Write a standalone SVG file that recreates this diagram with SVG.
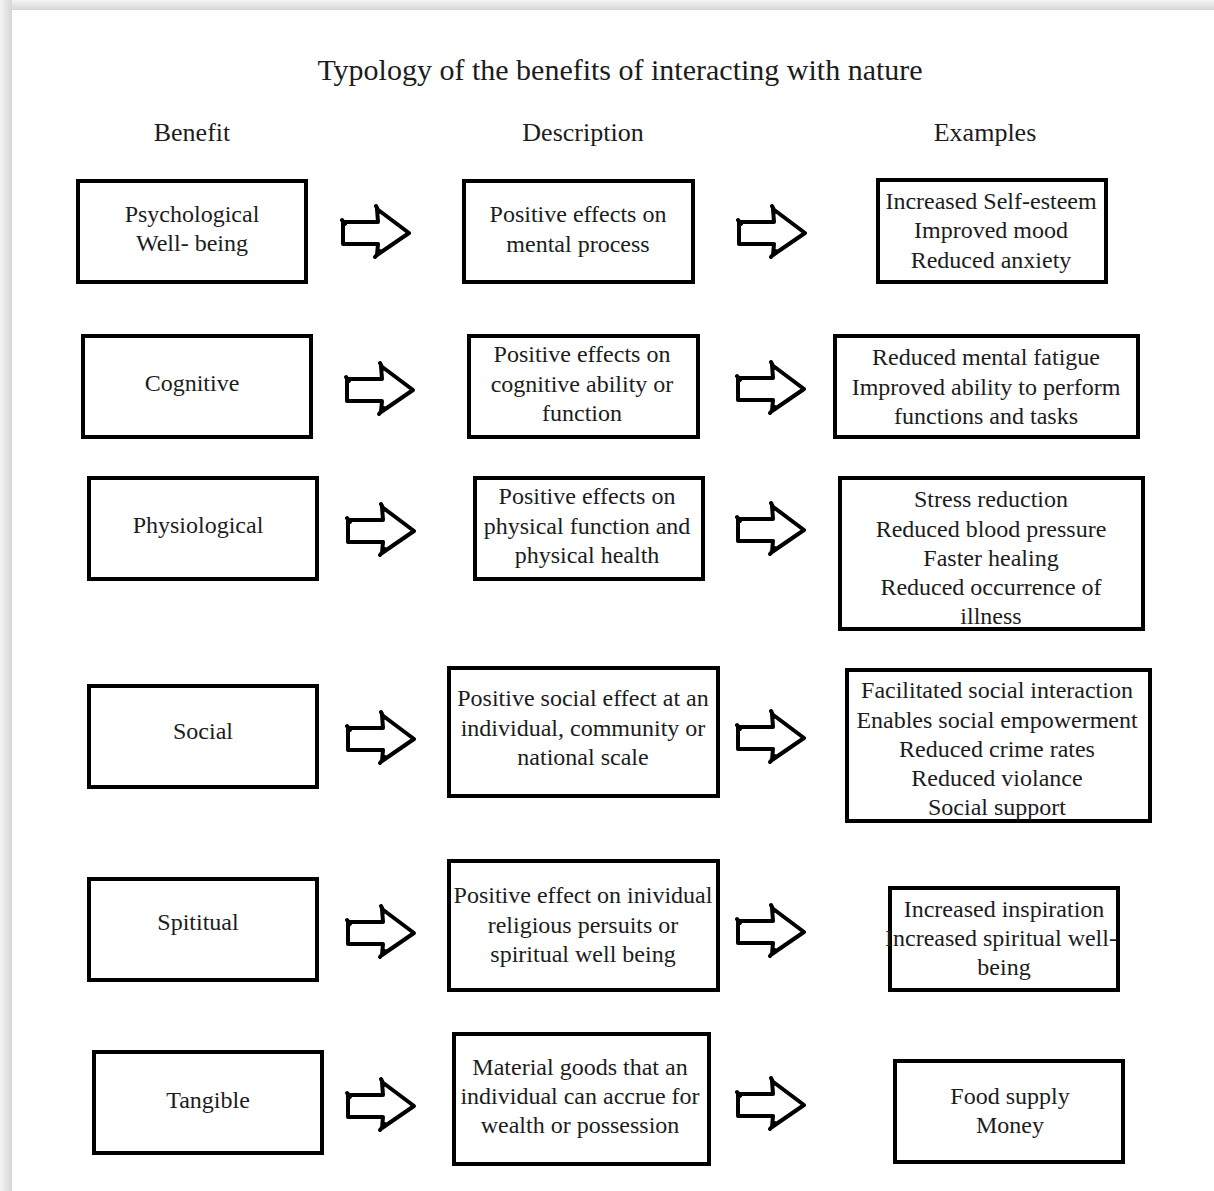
<svg xmlns="http://www.w3.org/2000/svg" width="1214" height="1191" viewBox="0 0 1214 1191">
<defs>
<linearGradient id="gt" x1="0" y1="0" x2="0" y2="1"><stop offset="0" stop-color="#f4f4f4"/><stop offset="1" stop-color="#d6d6d6"/></linearGradient>
<linearGradient id="gl" x1="0" y1="0" x2="1" y2="0"><stop offset="0" stop-color="#f4f4f4"/><stop offset="1" stop-color="#d6d6d6"/></linearGradient>
<path id="arr" d="M0,-11 L35,-11 L34,-24 L66,0 L34,22 L35,11 L0,11 Z M33,-27 L36,-21 M32,24 L37,18 M-1,-13 L2,-9"/>
</defs>
<style>
.box{fill:#fff;stroke:#000;stroke-width:4}
.t{font-family:"Liberation Serif","Times New Roman",serif;font-size:24px;fill:#1c1c1c;text-anchor:middle}
.h{font-size:26px}
.ti{font-size:30px}
.a{fill:none;stroke:#000;stroke-width:4;stroke-linejoin:round;stroke-linecap:round}
</style>
<rect width="1214" height="1191" fill="#fff"/>
<rect x="0" y="0" width="1214" height="10" fill="url(#gt)"/>
<rect x="0" y="0" width="12" height="1191" fill="url(#gl)"/>
<rect x="12" y="10" width="1202" height="1181" fill="#fff"/>

<text class="t ti" x="620" y="80">Typology of the benefits of interacting with nature</text>
<text class="t h" x="192" y="141">Benefit</text>
<text class="t h" x="583" y="141">Description</text>
<text class="t h" x="985" y="141">Examples</text>

<g id="connectors">
<use href="#arr" class="a" transform="translate(343,233)"/>
<use href="#arr" class="a" transform="translate(739,233)"/>
<use href="#arr" class="a" transform="translate(347,390)"/>
<use href="#arr" class="a" transform="translate(738,389)"/>
<use href="#arr" class="a" transform="translate(348,531)"/>
<use href="#arr" class="a" transform="translate(738,530)"/>
<use href="#arr" class="a" transform="translate(348,739)"/>
<use href="#arr" class="a" transform="translate(738,738)"/>
<use href="#arr" class="a" transform="translate(348,933)"/>
<use href="#arr" class="a" transform="translate(738,932)"/>
<use href="#arr" class="a" transform="translate(348,1106)"/>
<use href="#arr" class="a" transform="translate(738,1105)"/>
</g>

<g id="b1"><rect class="box" x="78" y="181" width="228" height="101"/><text class="t" x="192" y="222">Psychological</text><text class="t" x="192" y="251">Well- being</text></g>
<g id="d1"><rect class="box" x="464" y="181" width="229" height="101"/><text class="t" x="578" y="222">Positive effects on</text><text class="t" x="578" y="252">mental process</text></g>
<g id="e1"><rect class="box" x="878" y="180" width="228" height="102"/><text class="t" x="991" y="209">Increased Self-esteem</text><text class="t" x="991" y="238">Improved mood</text><text class="t" x="991" y="268">Reduced anxiety</text></g>

<g id="b2"><rect class="box" x="83" y="336" width="228" height="101"/><text class="t" x="192" y="391">Cognitive</text></g>
<g id="d2"><rect class="box" x="469" y="336" width="229" height="101"/><text class="t" x="582" y="362">Positive effects on</text><text class="t" x="582" y="392">cognitive ability or</text><text class="t" x="582" y="421">function</text></g>
<g id="e2"><rect class="box" x="835" y="336" width="303" height="101"/><text class="t" x="986" y="365">Reduced mental fatigue</text><text class="t" x="986" y="395">Improved ability to perform</text><text class="t" x="986" y="424">functions and tasks</text></g>

<g id="b3"><rect class="box" x="89" y="478" width="228" height="101"/><text class="t" x="198" y="533">Physiological</text></g>
<g id="d3"><rect class="box" x="475" y="478" width="228" height="101"/><text class="t" x="587" y="504">Positive effects on</text><text class="t" x="587" y="534">physical function and</text><text class="t" x="587" y="563">physical health</text></g>
<g id="e3"><rect class="box" x="840" y="478" width="303" height="151"/><text class="t" x="991" y="507">Stress reduction</text><text class="t" x="991" y="537">Reduced blood pressure</text><text class="t" x="991" y="566">Faster healing</text><text class="t" x="991" y="595">Reduced occurrence of</text><text class="t" x="991" y="624">illness</text></g>

<g id="b4"><rect class="box" x="89" y="686" width="228" height="101"/><text class="t" x="203" y="739">Social</text></g>
<g id="d4"><rect class="box" x="449" y="668" width="269" height="128"/><text class="t" x="583" y="706">Positive social effect at an</text><text class="t" x="583" y="736">individual, community or</text><text class="t" x="583" y="765">national scale</text></g>
<g id="e4"><rect class="box" x="847" y="670" width="303" height="151"/><text class="t" x="997" y="698">Facilitated social interaction</text><text class="t" x="997" y="728">Enables social empowerment</text><text class="t" x="997" y="757">Reduced crime rates</text><text class="t" x="997" y="786">Reduced violance</text><text class="t" x="997" y="815">Social support</text></g>

<g id="b5"><rect class="box" x="89" y="879" width="228" height="101"/><text class="t" x="198" y="930">Spititual</text></g>
<g id="d5"><rect class="box" x="449" y="861" width="269" height="129"/><text class="t" x="583" y="903">Positive effect on inividual</text><text class="t" x="583" y="933">religious persuits or</text><text class="t" x="583" y="962">spiritual well being</text></g>
<g id="e5"><rect class="box" x="890" y="888" width="228" height="102"/><text class="t" x="1004" y="917">Increased inspiration</text><text class="t" x="1001" y="946">Increased spiritual well-</text><text class="t" x="1004" y="975">being</text></g>

<g id="b6"><rect class="box" x="94" y="1052" width="228" height="101"/><text class="t" x="208" y="1108">Tangible</text></g>
<g id="d6"><rect class="box" x="454" y="1034" width="255" height="130"/><text class="t" x="580" y="1075">Material goods that an</text><text class="t" x="580" y="1104">individual can accrue for</text><text class="t" x="580" y="1133">wealth or possession</text></g>
<g id="e6"><rect class="box" x="895" y="1061" width="228" height="101"/><text class="t" x="1010" y="1104">Food supply</text><text class="t" x="1010" y="1133">Money</text></g>
</svg>
